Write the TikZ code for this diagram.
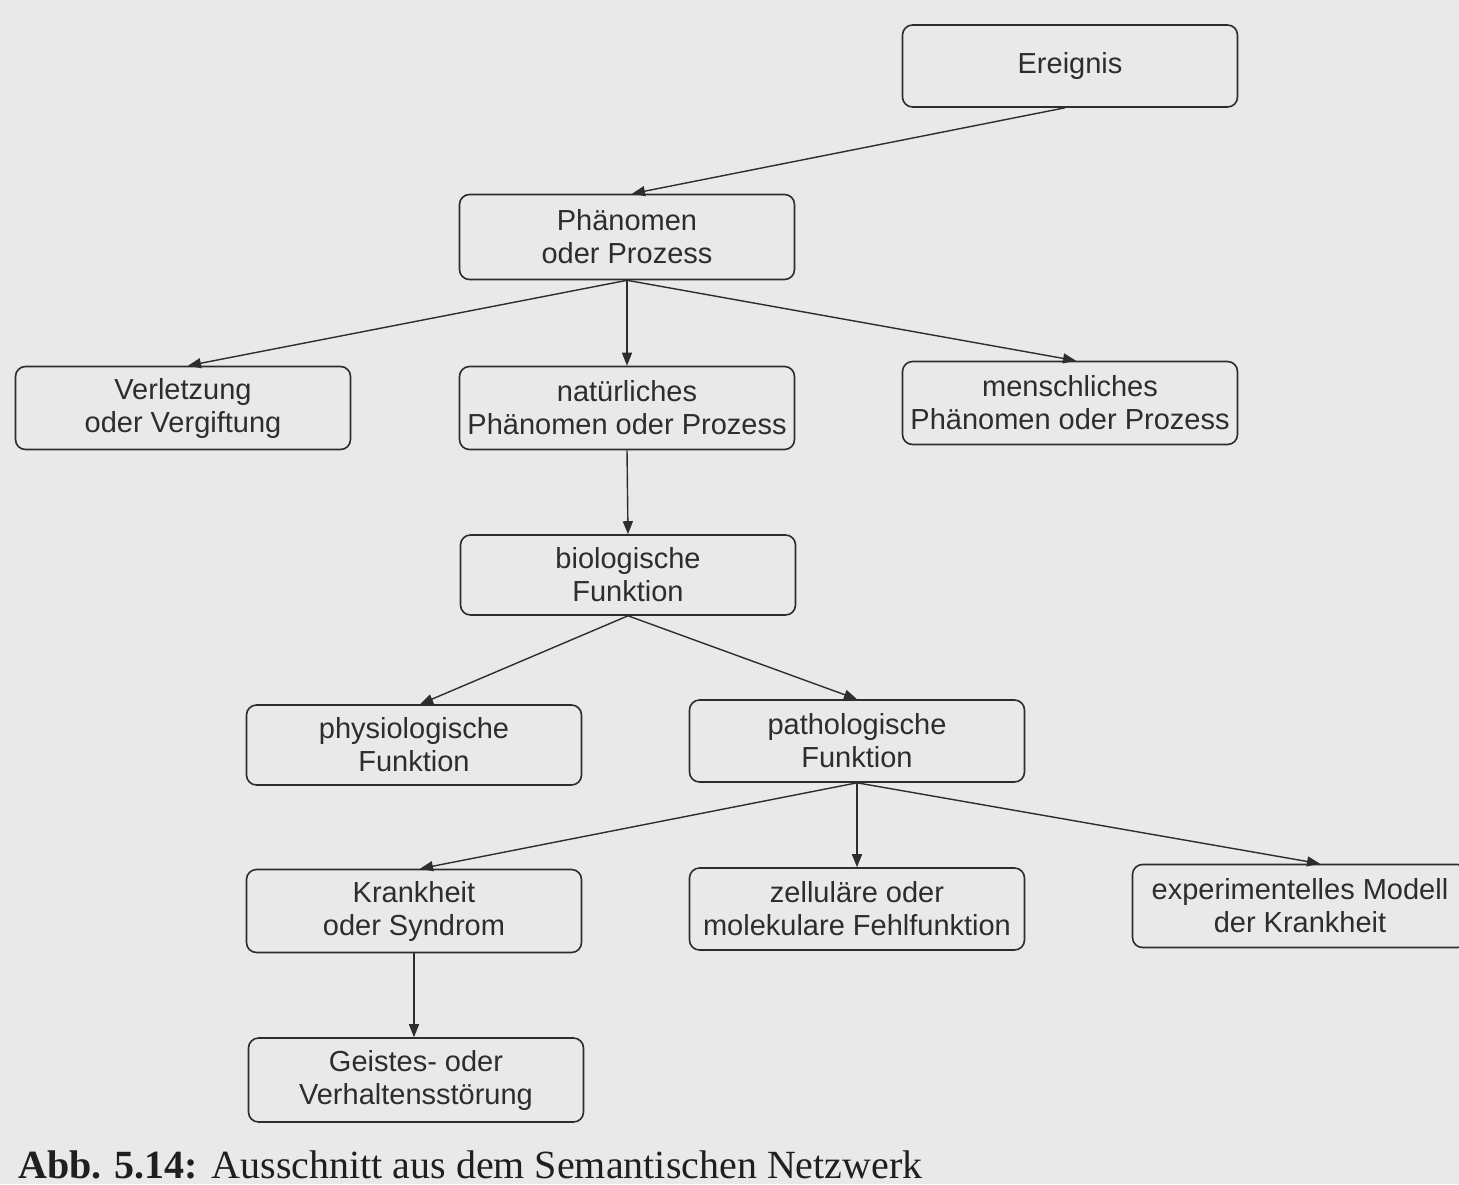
\documentclass[tikz,border=0pt]{standalone}
\usepackage{fontspec}
\setmainfont{Liberation Sans}
\newfontfamily\capfont{Liberation Serif}
\usetikzlibrary{arrows.meta,calc}
\definecolor{paper}{RGB}{233,233,233}
\definecolor{ink}{RGB}{45,45,45}
\begin{document}
\begin{tikzpicture}[x=1pt,y=-1pt,
  box/.style={draw=ink, line width=1.6pt, rounded corners=10pt, minimum width=335pt,
    minimum height=83pt, align=center, font=\fontsize{29}{33}\selectfont, text=ink, inner sep=0pt},
  arr/.style={draw=ink, line width=1.4pt, -{Triangle[length=13pt,width=10pt]}}]
\fill[paper] (0,0) rectangle (1459,1184);
\clip (0,0) rectangle (1459,1184);
\node[box, minimum height=82pt] (ereignis) at (1070,66) {Ereignis};
\node[box, minimum height=85pt] (phaen) at (627,237) {Phänomen\\oder Prozess};
\node[box] (verl) at (183,408) {Verletzung\\oder Vergiftung};
\node[box] (natur) at (627,408) {natürliches\\Phänomen oder Prozess};
\node[box] (mensch) at (1070,403) {menschliches\\Phänomen oder Prozess};
\node[box, minimum height=80pt] (bio) at (628,575) {biologische\\Funktion};
\node[box, minimum height=80pt] (phys) at (414,745) {physiologische\\Funktion};
\node[box, minimum height=82pt] (patho) at (857,741) {pathologische\\Funktion};
\node[box] (krank) at (414,911) {Krankheit\\oder Syndrom};
\node[box, minimum height=82pt] (zell) at (857,909) {zelluläre oder\\molekulare Fehlfunktion};
\node[box] (exp) at (1300,906) {experimentelles Modell\\der Krankheit};
\node[box, minimum height=84pt] (geist) at (416,1080) {Geistes- oder\\Verhaltensstörung};
\draw[arr] ($(ereignis.south)+(-5,0)$) -- ($(phaen.north)+(5,0)$);
\draw[arr] (phaen.south) -- ($(verl.north)+(5,0)$);
\draw[arr] (phaen.south) -- (natur.north);
\draw[arr] (phaen.south) -- ($(mensch.north)+(6,0)$);
\draw[arr] (natur.south) -- (bio.north);
\draw[arr] (bio.south) -- ($(phys.north)+(6,0)$);
\draw[arr] (bio.south) -- (patho.north);
\draw[arr] (patho.south) -- ($(krank.north)+(6,0)$);
\draw[arr] (patho.south) -- (zell.north);
\draw[arr] (patho.south) -- ($(exp.north)+(20,0)$);
\draw[arr] (krank.south) -- (krank.south |- geist.north);
\node[anchor=base west, inner sep=0pt, font=\capfont\fontsize{40}{44}\selectfont, text=black!88] (cap) at (18,1178)
  {\textbf{Abb. 5.14:} Ausschnitt aus dem Semantischen Netzwerk};
\end{tikzpicture}
\end{document}
